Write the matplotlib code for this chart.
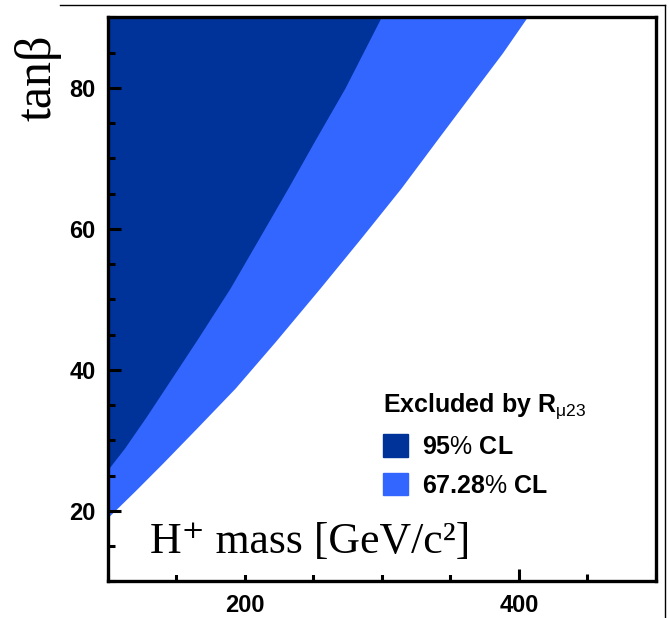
import numpy as np
import matplotlib.pyplot as plt
from matplotlib.patches import Patch
from matplotlib.lines import Line2D
from matplotlib.ticker import MultipleLocator

plt.rcParams['font.family'] = ['Liberation Sans', 'DejaVu Sans']
plt.rcParams['mathtext.fontset'] = 'custom'
plt.rcParams['mathtext.rm'] = 'Liberation Sans'
plt.rcParams['mathtext.it'] = 'Liberation Sans:italic'
plt.rcParams['mathtext.bf'] = 'Liberation Sans:bold'

# exclusion boundaries (H+ mass [GeV], tan beta)
mass_95 = [100, 112, 128, 141.6, 165, 189.1, 210, 231.4, 252, 273.0, 299.3]
tanb_95 = [25.9, 28.9, 33.4, 37.4, 44.3, 51.6, 58.6, 65.8, 72.9, 80.0, 90.0]

mass_67 = [100, 120, 140, 165, 192.7, 222, 254.7, 285, 313.9, 340, 368.6, 388, 405.8]
tanb_67 = [19.1, 22.9, 26.8, 31.8, 37.4, 44.0, 51.6, 58.8, 65.8, 72.6, 80.0, 85.0, 90.0]

labels = ['95$\\mathit{\\%}$ CL', '67.28$\\mathit{\\%}$ CL']
dark = '#003399'
light = '#3366ff'

fig = plt.figure(figsize=(6.69, 6.18), dpi=100)
ax = fig.add_axes([0.1614, 0.0591, 0.8191, 0.9126])

ax.fill_between(mass_67, tanb_67, 90, color=light, lw=0)
ax.fill_between(mass_95, tanb_95, 90, color=dark, lw=0)

ax.set_xlim(100, 500)
ax.set_ylim(10, 90)
ax.xaxis.set_major_locator(MultipleLocator(200))
ax.xaxis.set_minor_locator(MultipleLocator(50))
ax.yaxis.set_major_locator(MultipleLocator(20))
ax.yaxis.set_minor_locator(MultipleLocator(5))
ax.tick_params(which='both', direction='in', width=2.2, color='black')
ax.tick_params(which='major', length=9, pad=9, labelsize=17)
ax.tick_params(which='minor', length=5)
for lab in ax.get_xticklabels() + ax.get_yticklabels():
    lab.set_fontweight('bold')
for s in ax.spines.values():
    s.set_linewidth(2.4)

ax.set_ylabel('tan\u03b2', family=['Liberation Serif', 'DejaVu Serif'], fontsize=36)
ax.yaxis.label.set_va('center')
ax.yaxis.set_label_coords(-0.128, 0.893)

ax.text(0.0766, 0.0505, 'H\u207a mass [GeV/c\u00b2]', transform=ax.transAxes,
        family=['Liberation Serif', 'DejaVu Serif'], fontsize=31.5, va='baseline', ha='left',
        bbox=dict(boxstyle='square,pad=0.3', fc='white', ec='none'))

handles = [Patch(color=dark), Patch(color=light)]
leg = ax.legend(handles, labels, title='Excluded by R$_{\\mathrm{\\mu23}}$',
                loc='upper left', bbox_to_anchor=(0.502, 0.338), frameon=False,
                borderpad=0, borderaxespad=0, handlelength=1.0, handleheight=1.0,
                handletextpad=0.56, labelspacing=0.55, alignment='left',
                prop={'weight': 'bold', 'size': 18},
                title_fontproperties={'weight': 'bold', 'size': 18})

# thin outer frame lines
fig.add_artist(Line2D([0.0897, 0.994], [0.9919, 0.9919], color='black', lw=1))
fig.add_artist(Line2D([0.994, 0.994], [0.9919, 0.0], color='black', lw=1))

fig.savefig('out.png', dpi=100)
